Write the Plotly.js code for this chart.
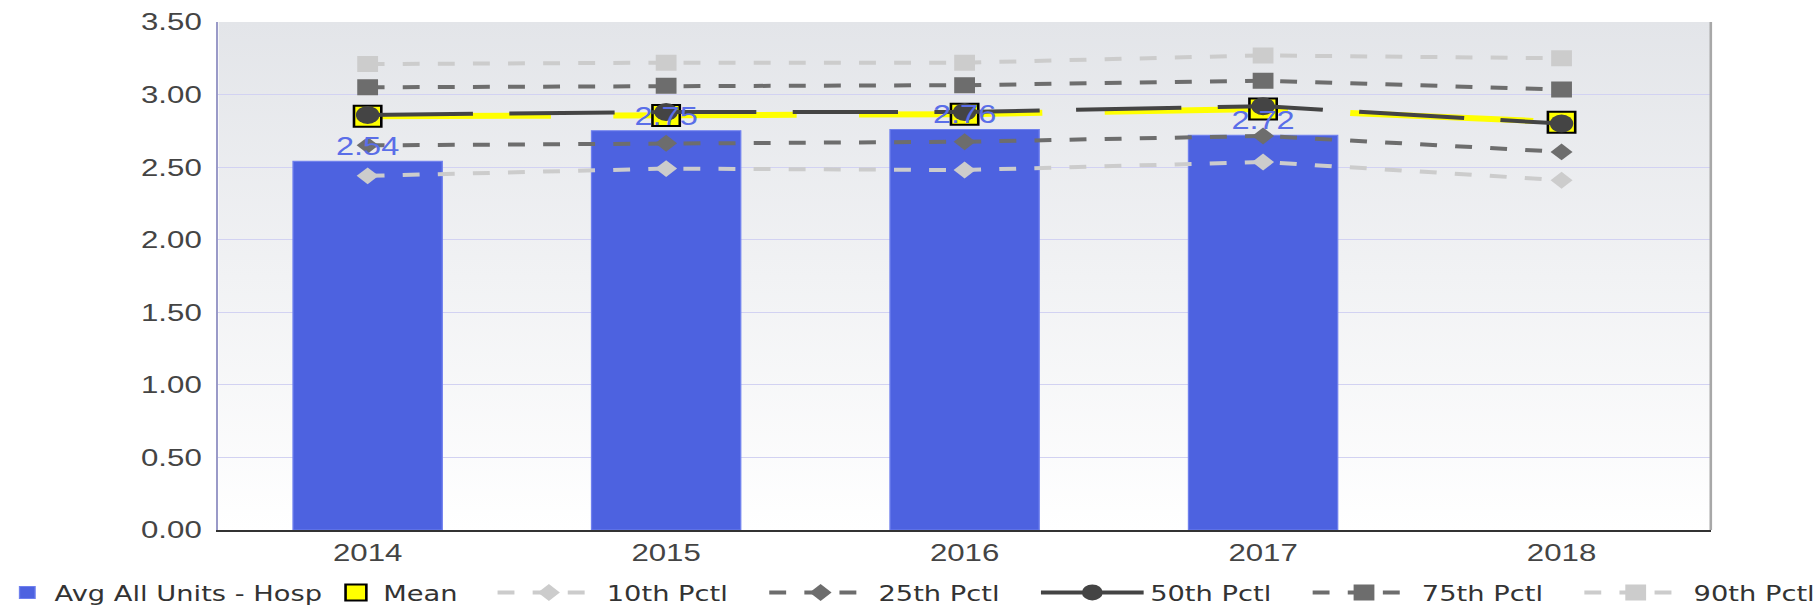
<!DOCTYPE html>
<html>
<head>
<meta charset="utf-8">
<script src="https://cdn.plot.ly/plotly-3.0.1.min.js"></script>
<style>
  html, body { margin: 0; padding: 0; background: #ffffff; overflow: hidden; }
  #chart { width: 1399px; height: 608px; transform: scaleX(1.3); transform-origin: 0 0; }
</style>
</head>
<body>
<div id="chart"></div>
<script>
// ---- data ----
const years = ['2014', '2015', '2016', '2017', '2018'];
const avgAllUnits = [2.54, 2.75, 2.76, 2.72, null];
const meanVals = [2.85, 2.855, 2.865, 2.90, 2.81];
const pct10 = [2.44, 2.49, 2.48, 2.535, 2.41];
const pct25 = [2.65, 2.665, 2.675, 2.715, 2.605];
const pct50 = [2.86, 2.88, 2.88, 2.92, 2.80];
const pct75 = [3.05, 3.06, 3.065, 3.095, 3.035];
const pct90 = [3.21, 3.22, 3.22, 3.27, 3.25];
const yTicks = [0, 0.5, 1.0, 1.5, 2.0, 2.5, 3.0, 3.5];
const yTickText = ['0.00', '0.50', '1.00', '1.50', '2.00', '2.50', '3.00', '3.50'];

const labelFont = 'Liberation Sans, Arial, sans-serif';
const legendFont = 'DejaVu Sans, Verdana, sans-serif';

const traces = [
  {
    type: 'bar', name: 'Avg All Units - Hosp', x: years, y: avgAllUnits,
    width: 0.5, marker: { color: '#4d62e0', line: { color: '#6f80ee', width: 1 } },
    legend: 'legend', hoverinfo: 'skip'
  },
  {
    type: 'scatter', mode: 'lines', name: 'Mean line', x: years, y: meanVals,
    line: { color: '#ffff00', width: 6, dash: '141px,48px' },
    showlegend: false, hoverinfo: 'skip'
  },
  {
    type: 'scatter', mode: 'markers', name: 'Mean', x: years, y: meanVals,
    marker: { symbol: 'square', size: 21, color: '#ffff00', line: { color: '#000000', width: 2 } },
    legend: 'legend', hoverinfo: 'skip'
  },
  {
    type: 'scatter', mode: 'lines+markers', name: '10th Pctl', x: years, y: pct10,
    line: { color: '#cccccc', width: 4, dash: '13px,14px' },
    marker: { symbol: 'diamond', size: 13, color: '#cccccc' },
    legend: 'legend2', hoverinfo: 'skip'
  },
  {
    type: 'scatter', mode: 'lines+markers', name: '25th Pctl', x: years, y: pct25,
    line: { color: '#6d6d6d', width: 4, dash: '13px,14px' },
    marker: { symbol: 'diamond', size: 13, color: '#6d6d6d' },
    legend: 'legend2', hoverinfo: 'skip'
  },
  {
    type: 'scatter', mode: 'lines+markers', name: '50th Pctl', x: years, y: pct50,
    line: { color: '#444444', width: 4, dash: '81px,28px' },
    marker: { symbol: 'circle', size: 18, color: '#444444' },
    legend: 'legend2', hoverinfo: 'skip'
  },
  {
    type: 'scatter', mode: 'lines+markers', name: '75th Pctl', x: years, y: pct75,
    line: { color: '#6d6d6d', width: 4, dash: '13px,14px' },
    marker: { symbol: 'square', size: 16, color: '#6d6d6d' },
    legend: 'legend2', hoverinfo: 'skip'
  },
  {
    type: 'scatter', mode: 'lines+markers', name: '90th Pctl', x: years, y: pct90,
    line: { color: '#cccccc', width: 4, dash: '13px,14px' },
    marker: { symbol: 'square', size: 16, color: '#cccccc' },
    legend: 'legend2', hoverinfo: 'skip'
  },
  {
    type: 'scatter', mode: 'text', name: 'labels', x: years, y: avgAllUnits,
    text: avgAllUnits.map(v => v == null ? '' : v.toFixed(2)),
    textposition: 'top center',
    textfont: { family: labelFont, size: 25, color: '#5a6ee8' },
    showlegend: false, hoverinfo: 'skip', cliponaxis: false
  }
];

const gradSvg = "<svg xmlns='http://www.w3.org/2000/svg' width='10' height='100' preserveAspectRatio='none'>" +
  "<defs><linearGradient id='g' x1='0' y1='0' x2='0' y2='1'>" +
  "<stop offset='0' stop-color='#e3e5e9'/><stop offset='1' stop-color='#ffffff'/>" +
  "</linearGradient></defs><rect width='10' height='100' fill='url(#g)'/></svg>";

const layout = {
  width: 1399, height: 608,
  margin: { l: 168, r: 83, t: 22, b: 78, pad: 0 },
  paper_bgcolor: '#ffffff',
  plot_bgcolor: 'rgba(0,0,0,0)',
  showlegend: true,
  images: [{
    source: 'data:image/svg+xml;charset=utf-8,' + encodeURIComponent(gradSvg),
    xref: 'paper', yref: 'paper', x: 0, y: 1, sizex: 1, sizey: 1,
    xanchor: 'left', yanchor: 'top', sizing: 'stretch', layer: 'below'
  }],
  xaxis: {
    type: 'category', range: [-0.5, 4.5], fixedrange: true,
    showgrid: false, zeroline: false,
    showline: true, linecolor: '#333333', linewidth: 2,
    ticks: '', tickfont: { family: labelFont, size: 24, color: '#444444' }
  },
  yaxis: {
    range: [0, 3.5], fixedrange: true,
    tickvals: yTicks, ticktext: yTickText,
    showgrid: true, gridcolor: '#d2d2f2', gridwidth: 1,
    zeroline: false,
    showline: true, linecolor: '#9a9ac8', linewidth: 2,
    ticks: '', ticklabelstandoff: 6,
    tickfont: { family: labelFont, size: 24, color: '#444444' }
  },
  shapes: [{
    type: 'line', xref: 'paper', yref: 'paper', x0: 1, x1: 1, y0: 0, y1: 1,
    line: { color: '#a8a8a8', width: 2 }
  }],
  legend: {
    orientation: 'h', xref: 'container', yref: 'container',
    x: 0.0, y: 0.025, xanchor: 'left', yanchor: 'middle',
    font: { family: legendFont, size: 21, color: '#333333' },
    itemwidth: 32, bgcolor: 'rgba(0,0,0,0)', traceorder: 'normal'
  },
  legend2: {
    orientation: 'h', xref: 'container', yref: 'container',
    x: 0.27, y: 0.025, xanchor: 'left', yanchor: 'middle',
    font: { family: legendFont, size: 21, color: '#333333' },
    itemwidth: 79, entrywidth: 115, bgcolor: 'rgba(0,0,0,0)', traceorder: 'normal'
  }
};

Plotly.newPlot('chart', traces, layout, { displayModeBar: false, staticPlot: true });
</script>
</body>
</html>
